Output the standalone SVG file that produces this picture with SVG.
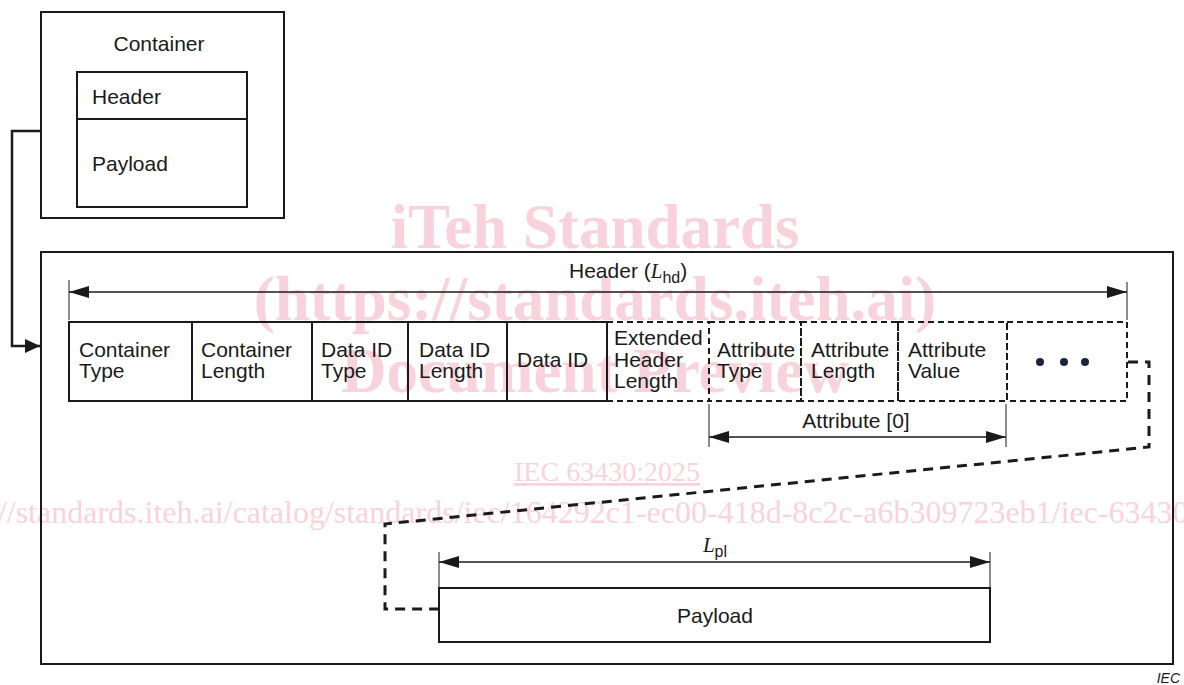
<svg xmlns="http://www.w3.org/2000/svg" width="1184" height="685" viewBox="0 0 1184 685">
<style>
.wm{font-family:"Liberation Serif","Times New Roman",serif;fill:#f9d3dc;}
.wmb{font-weight:bold;font-size:63px;}
.t{font-family:"Liberation Sans",Arial,sans-serif;font-size:21px;fill:#1a1a1a;}
.it{font-family:"Liberation Serif","Times New Roman",serif;font-style:italic;}
.box{fill:none;stroke:#1a1a1a;stroke-width:2;}
.dbox{fill:none;stroke:#1a1a1a;stroke-width:2;stroke-dasharray:6 4;}
.dim{fill:none;stroke:#1a1a1a;stroke-width:1.5;}
.ext{fill:none;stroke:#1a1a1a;stroke-width:1;}
</style>
<defs>
<marker id="arr" viewBox="0 0 20 12" refX="20" refY="6" markerWidth="20" markerHeight="12" markerUnits="userSpaceOnUse" orient="auto-start-reverse">
<path d="M0,0 L20,6 L0,12 z" fill="#1a1a1a"/>
</marker>
<marker id="arrBig" viewBox="0 0 15 14" refX="15" refY="7" markerWidth="15" markerHeight="14" markerUnits="userSpaceOnUse" orient="auto">
<path d="M0,0 L15,7 L0,14 z" fill="#1a1a1a"/>
</marker>
</defs>
<rect width="1184" height="685" fill="#ffffff"/>

<g id="watermark">
<text class="wm wmb" x="595" y="248" text-anchor="middle">iTeh Standards</text>
<text class="wm wmb" x="595" y="320" text-anchor="middle">(https://standards.iteh.ai)</text>
<text class="wm wmb" x="595" y="392" text-anchor="middle">Document Preview</text>
<text class="wm" x="607" y="481" font-size="28" text-anchor="middle" text-decoration="underline">IEC 63430:2025</text>
<text class="wm" x="595" y="523" font-size="32" text-anchor="middle">https://standards.iteh.ai/catalog/standards/iec/164292c1-ec00-418d-8c2c-a6b309723eb1/iec-63430-2025</text>
</g>

<g id="container">
<rect class="box" x="41" y="12" width="243" height="206"/>
<text class="t" x="159" y="51" text-anchor="middle">Container</text>
<rect class="box" x="77" y="72" width="170" height="135"/>
<line class="box" x1="77" y1="119" x2="247" y2="119"/>
<text class="t" x="92" y="104">Header</text>
<text class="t" x="92" y="171">Payload</text>
</g>

<g id="header-frame">
<rect class="box" x="41" y="252" width="1132" height="412"/>
</g>

<g id="header-dim">
<line class="ext" x1="69" y1="280" x2="69" y2="320"/>
<line class="ext" x1="1127" y1="282" x2="1127" y2="320"/>
<line class="dim" x1="69" y1="292" x2="1127" y2="292" marker-start="url(#arr)" marker-end="url(#arr)"/>
<text class="t" x="569" y="278">Header (<tspan class="it">L</tspan><tspan font-size="16" dy="5">hd</tspan><tspan dy="-5">)</tspan></text>
</g>

<g id="f-container-type">
<rect class="box" x="69" y="322" width="123" height="79"/>
<text class="t" x="79" y="357">Container</text>
<text class="t" x="79" y="378">Type</text>
</g>
<g id="f-container-length">
<rect class="box" x="192" y="322" width="120" height="79"/>
<text class="t" x="201" y="357">Container</text>
<text class="t" x="201" y="378">Length</text>
</g>
<g id="f-dataid-type">
<rect class="box" x="312" y="322" width="96" height="79"/>
<text class="t" x="321" y="357">Data ID</text>
<text class="t" x="321" y="378">Type</text>
</g>
<g id="f-dataid-length">
<rect class="box" x="408" y="322" width="99" height="79"/>
<text class="t" x="419" y="357">Data ID</text>
<text class="t" x="419" y="378">Length</text>
</g>
<g id="f-dataid">
<rect class="box" x="507" y="322" width="100" height="79"/>
<text class="t" x="517" y="367">Data ID</text>
</g>
<g id="f-ext-header-length">
<path class="dbox" d="M607,322 H709 M607,401 H709"/>
<text class="t" x="614" y="345">Extended</text>
<text class="t" x="614" y="367">Header</text>
<text class="t" x="614" y="388">Length</text>
</g>
<g id="f-attr-type">
<rect class="dbox" x="709" y="322" width="92" height="79"/>
<text class="t" x="717" y="357">Attribute</text>
<text class="t" x="717" y="378">Type</text>
</g>
<g id="f-attr-length">
<rect class="dbox" x="801" y="322" width="97" height="79"/>
<text class="t" x="811" y="357">Attribute</text>
<text class="t" x="811" y="378">Length</text>
</g>
<g id="f-attr-value">
<rect class="dbox" x="898" y="322" width="109" height="79"/>
<text class="t" x="908" y="357">Attribute</text>
<text class="t" x="908" y="378">Value</text>
</g>
<g id="f-more">
<rect class="dbox" x="1007" y="322" width="120" height="79"/>
<circle cx="1040" cy="362" r="4" fill="#1b2540"/>
<circle cx="1064" cy="362" r="4" fill="#1b2540"/>
<circle cx="1085" cy="362" r="4" fill="#1b2540"/>
</g>

<g id="attr-dim">
<line class="ext" x1="709" y1="404" x2="709" y2="447"/>
<line class="ext" x1="1006" y1="404" x2="1006" y2="447"/>
<line class="dim" x1="709" y1="437" x2="1006" y2="437" marker-start="url(#arr)" marker-end="url(#arr)"/>
<text class="t" x="856" y="428" text-anchor="middle">Attribute [0]</text>
</g>

<g id="payload">
<line class="ext" x1="439" y1="552" x2="439" y2="588"/>
<line class="ext" x1="990" y1="552" x2="990" y2="588"/>
<line class="dim" x1="439" y1="562" x2="990" y2="562" marker-start="url(#arr)" marker-end="url(#arr)"/>
<text class="t" x="715" y="552" text-anchor="middle"><tspan class="it">L</tspan><tspan font-size="16" dy="5">pl</tspan></text>
<rect class="box" x="439" y="588" width="551" height="54"/>
<text class="t" x="715" y="623" text-anchor="middle">Payload</text>
</g>

<g id="connectors">
<path d="M41,131 H12 V346 H40" fill="none" stroke="#1a1a1a" stroke-width="2.5" marker-end="url(#arrBig)"/>
<path d="M1128,362 H1149 V447 L385,524 V609 H439" fill="none" stroke="#1a1a1a" stroke-width="3" stroke-dasharray="10 7"/>
</g>

<text x="1180" y="683" text-anchor="end" font-family="'Liberation Sans',Arial,sans-serif" font-style="italic" font-size="14" fill="#1a1a1a">IEC</text>
</svg>
